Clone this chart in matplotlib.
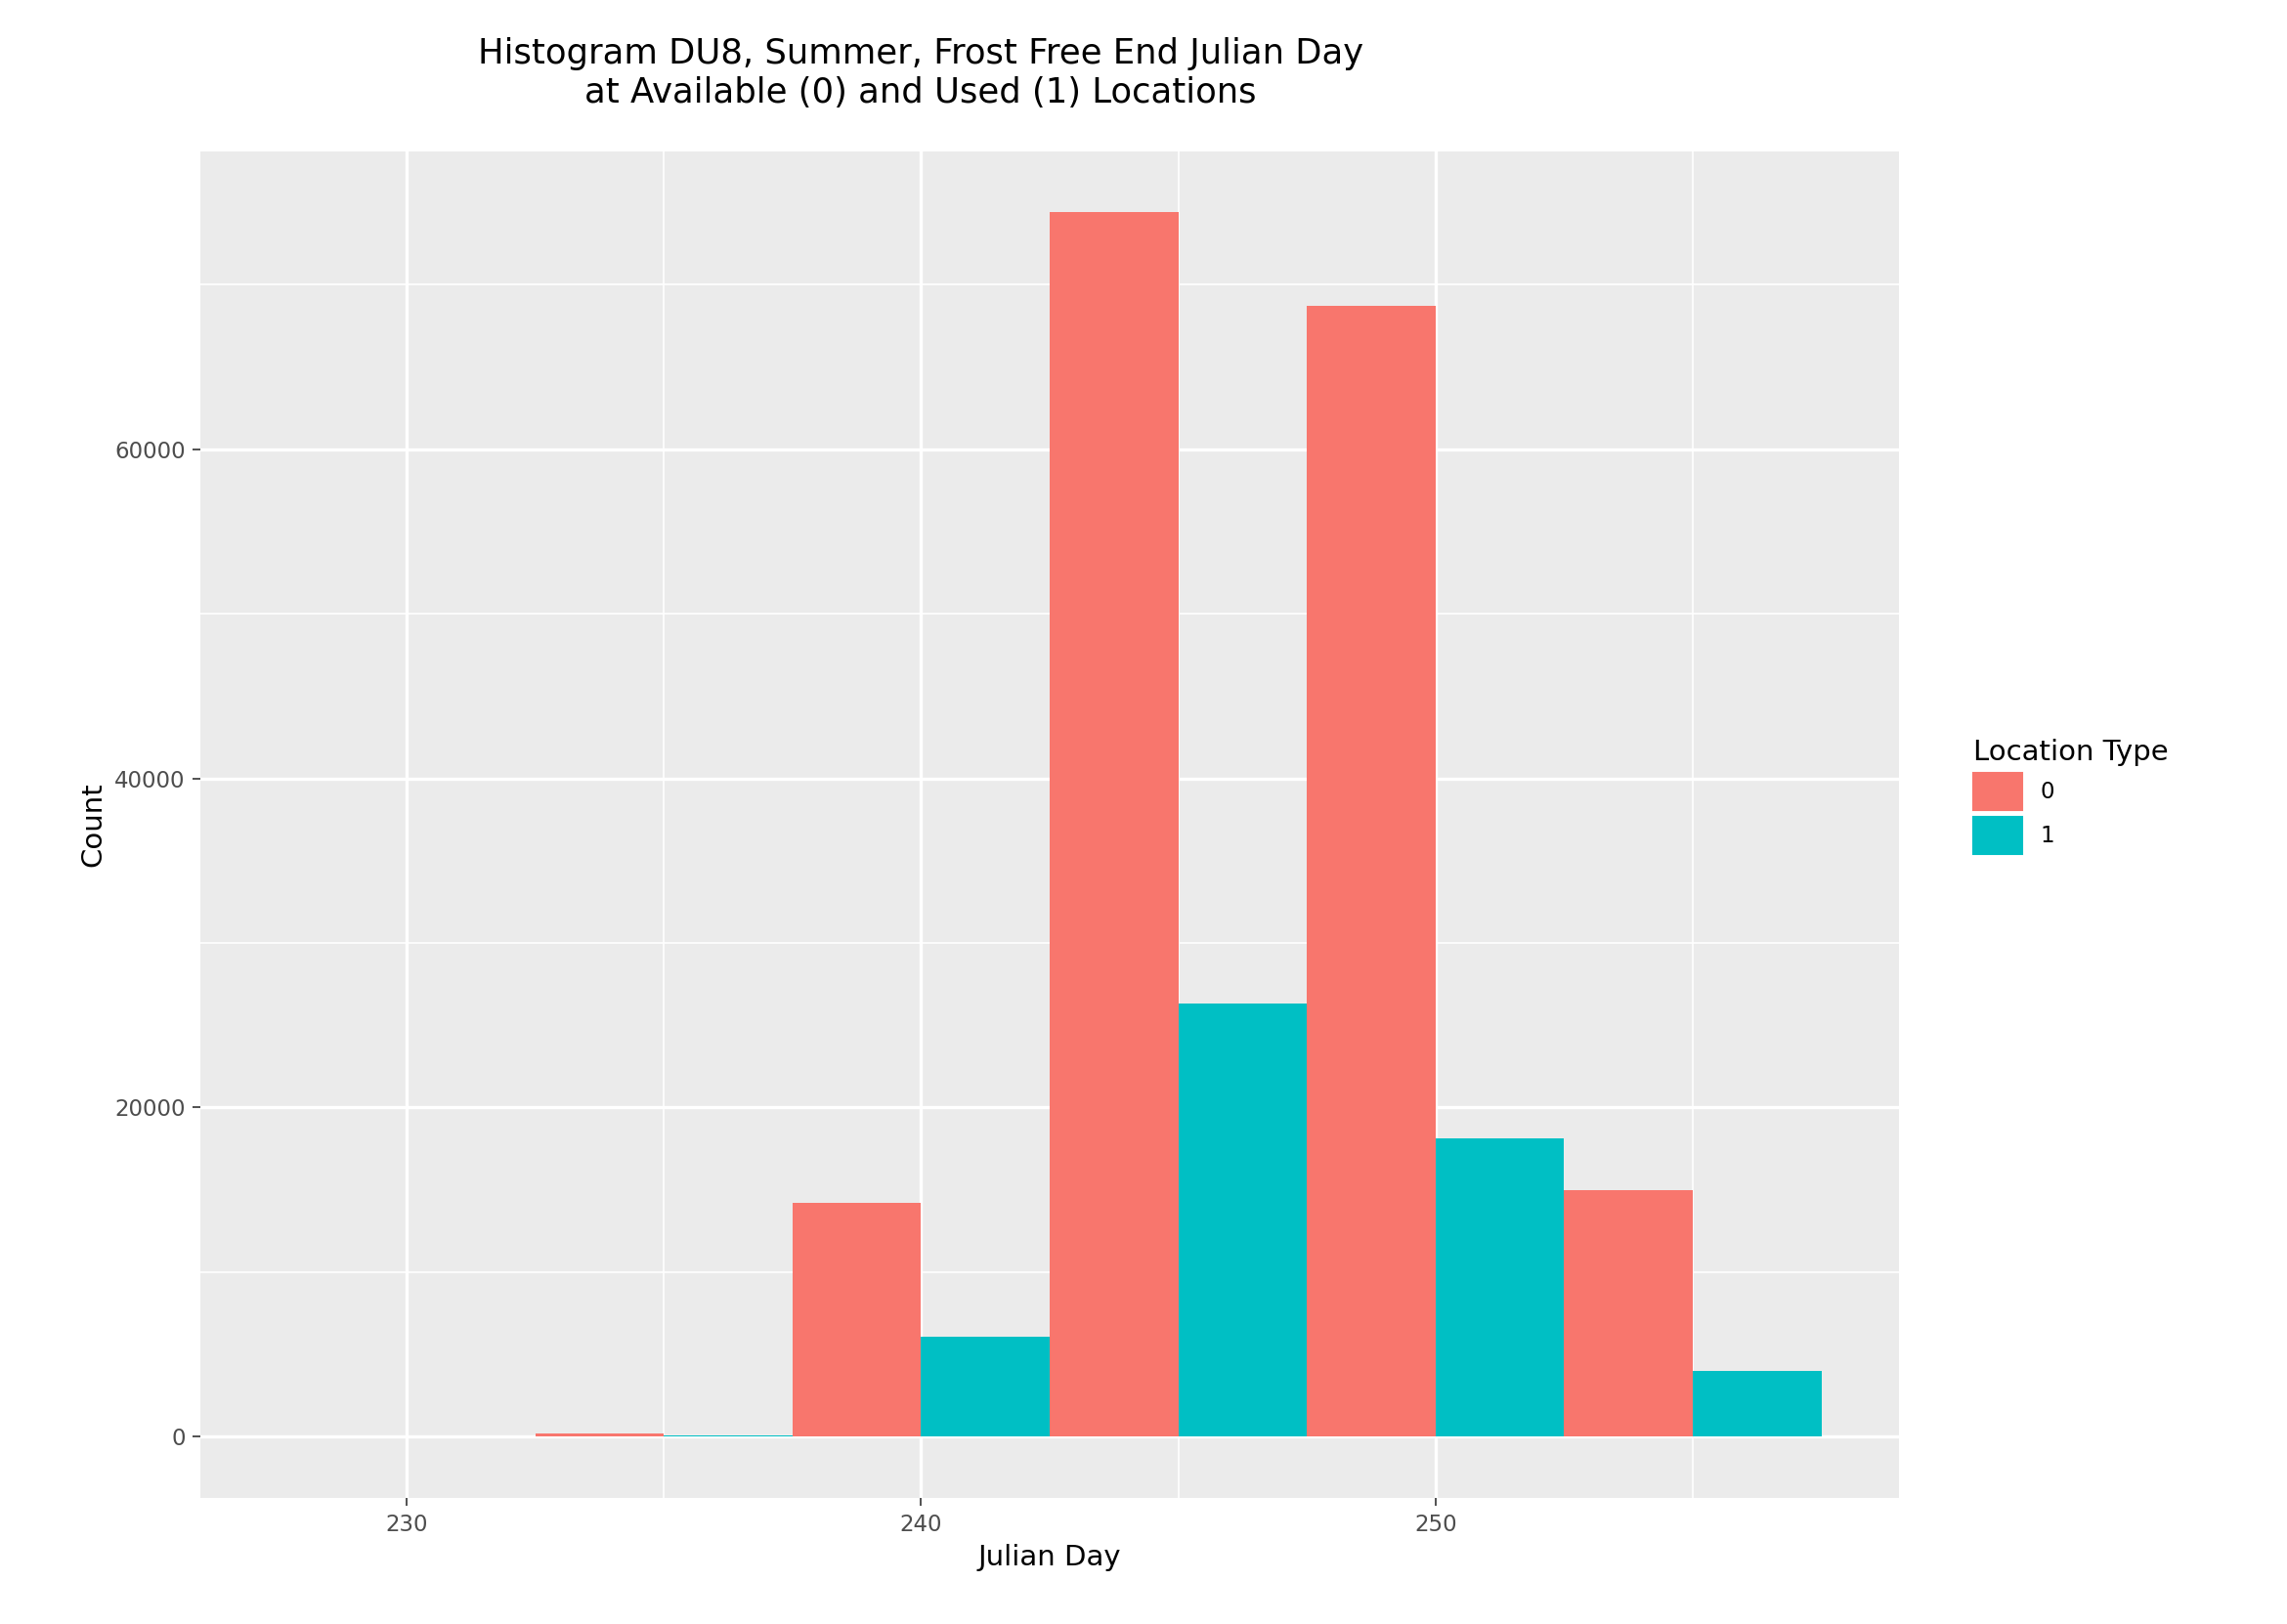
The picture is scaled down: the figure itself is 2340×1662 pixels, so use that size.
import matplotlib.pyplot as plt
import numpy as np
from matplotlib.patches import Patch

# histogram bins (binwidth 5), dodged by location type
bin_centers = [230, 235, 240, 245, 250, 255]
count_avail = [5, 200, 14200, 74400, 68700, 15000]
count_used = [0, 100, 6100, 26300, 18100, 4000]
binwidth = 5
c0 = '#F8766D'
c1 = '#00BFC4'

W, H = 1560, 1108
fig = plt.figure(figsize=(15.6, 11.08), dpi=150)
ax = fig.add_axes([137 / W, 1 - 1022 / H, (1295 - 137) / W, (1022 - 103) / H])
ax.set_facecolor('#EBEBEB')

centers = np.array(bin_centers)
ax.bar(centers - binwidth / 4, count_avail, width=binwidth / 2, color=c0, zorder=3)
ax.bar(centers + binwidth / 4, count_used, width=binwidth / 2, color=c1, zorder=3)

ymax = 74400
ax.set_xlim(226, 259)
ax.set_ylim(-0.05 * ymax, 1.05 * ymax)
ax.set_xticks([230, 240, 250])
ax.set_xticks([235, 245, 255], minor=True)
ax.set_yticks([0, 20000, 40000, 60000])
ax.set_yticks([10000, 30000, 50000, 70000], minor=True)
ax.grid(which='major', color='white', linewidth=1.6, zorder=0)
ax.grid(which='minor', color='white', linewidth=0.8, zorder=0)
for s in ax.spines.values():
    s.set_visible(False)
ax.tick_params(which='major', length=4, color='#333333', labelsize=11, labelcolor='#4D4D4D')
ax.tick_params(which='minor', length=0)
ax.set_xlabel('Julian Day', fontsize=14)
ax.set_ylabel('Count', fontsize=14)

fig.text((137 + 1295) / 2 / W * 0.79 + 0.04, 1 - 50 / H,
         'Histogram DU8, Summer, Frost Free End Julian Day\nat Available (0) and Used (1) Locations',
         ha='center', va='center', fontsize=17)

handles = [Patch(color=c0, label='0'), Patch(color=c1, label='1')]
leg = fig.legend(handles=handles, title='Location Type', loc='upper left',
                 bbox_to_anchor=(1332 / W, 1 - 490 / H), frameon=False,
                 fontsize=11, title_fontsize=14, handlelength=2.2, handleheight=2.2,
                 labelspacing=0.3)
leg._legend_box.align = 'left'

fig.savefig('out.png', dpi=150)
